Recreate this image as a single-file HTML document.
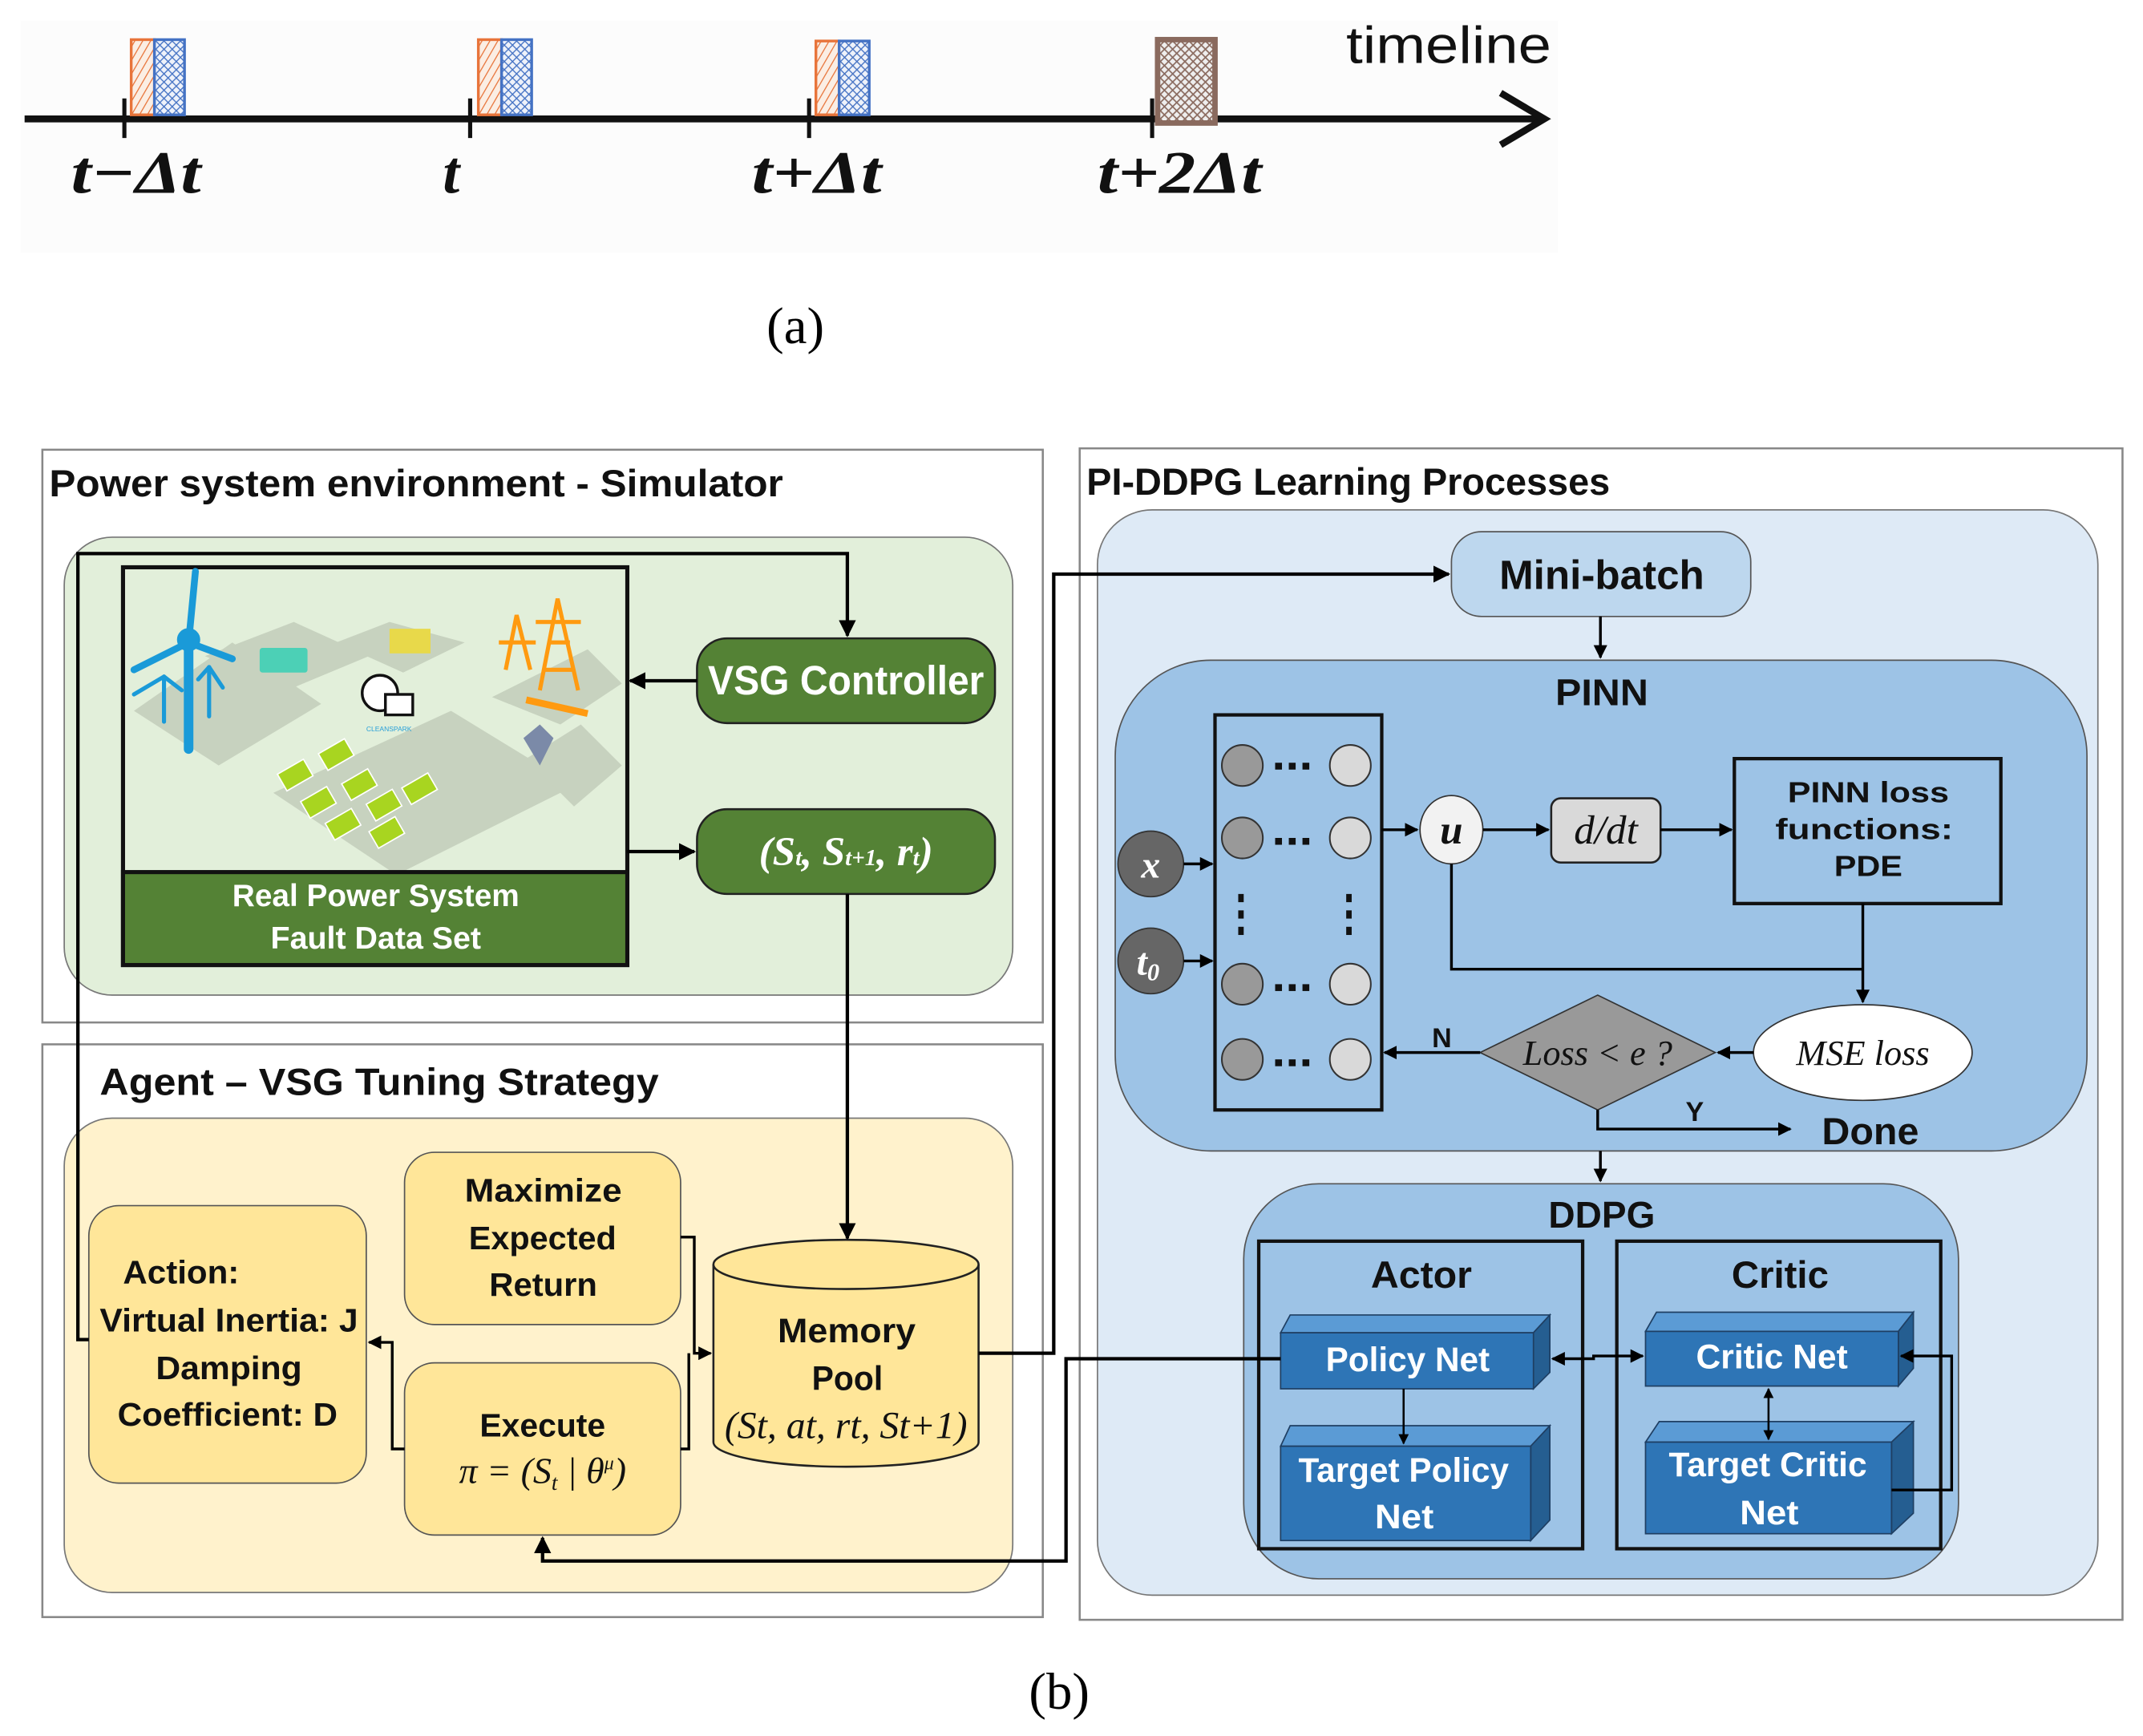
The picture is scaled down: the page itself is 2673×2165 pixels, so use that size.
<!DOCTYPE html>
<html><head><meta charset="utf-8"><style>
html,body{margin:0;padding:0;background:#fff}
svg{display:block}
.c{font-family:"Liberation Sans Narrow","Liberation Sans",sans-serif;font-weight:bold}
.s{font-family:"Liberation Serif",serif}
</style></head><body>
<svg width="2673" height="2165" viewBox="0 0 1568 1270" preserveAspectRatio="none" xmlns="http://www.w3.org/2000/svg">
<defs>
<marker id="a" viewBox="0 0 10 10" refX="9" refY="5" markerWidth="5" markerHeight="5" orient="auto-start-reverse"><path d="M0,0 L10,5 L0,10 z" fill="#000"/></marker>
<pattern id="h1" width="5" height="5" patternUnits="userSpaceOnUse" patternTransform="rotate(30)"><rect width="5" height="5" fill="#fbeee4"/><line x1="0" y1="0" x2="0" y2="5" stroke="#e8743a" stroke-width="1.5"/></pattern>
<pattern id="h2" width="6" height="6" patternUnits="userSpaceOnUse"><rect width="6" height="6" fill="#eef2fa"/><path d="M0,0 L6,6 M6,0 L0,6" stroke="#4472c4" stroke-width="0.8"/></pattern>
<pattern id="h3" width="6" height="6" patternUnits="userSpaceOnUse"><rect width="6" height="6" fill="#eee"/><path d="M0,0 L6,6 M6,0 L0,6" stroke="#8a6a5e" stroke-width="1"/></pattern>
</defs>

<rect x="15" y="15" width="1125" height="170" fill="#fcfcfc"/>
<line x1="18" y1="87" x2="1128" y2="87" stroke="#111" stroke-width="5"/>
<path d="M1098,68 L1130,87 L1098,106" fill="none" stroke="#111" stroke-width="5"/>
<g stroke="#111" stroke-width="3">
<line x1="91" y1="72" x2="91" y2="101"/><line x1="344" y1="72" x2="344" y2="101"/><line x1="592" y1="72" x2="592" y2="101"/><line x1="843" y1="72" x2="843" y2="101"/></g>
<g stroke-width="2">
<rect x="96" y="29" width="17" height="55" fill="url(#h1)" stroke="#e8743a"/><rect x="113" y="29" width="22" height="55" fill="url(#h2)" stroke="#4472c4"/>
<rect x="350" y="29" width="17" height="55" fill="url(#h1)" stroke="#e8743a"/><rect x="367" y="29" width="22" height="55" fill="url(#h2)" stroke="#4472c4"/>
<rect x="597" y="30" width="17" height="54" fill="url(#h1)" stroke="#e8743a"/><rect x="614" y="30" width="22" height="54" fill="url(#h2)" stroke="#4472c4"/>
<rect x="847" y="29" width="42" height="61" fill="url(#h3)" stroke="#8a6a5e" stroke-width="4"/></g>
<g class="s" font-style="italic" font-weight="bold" font-size="44" fill="#111">
<text x="52" y="141" textLength="95" lengthAdjust="spacingAndGlyphs">t−Δt</text><text x="324" y="141">t</text><text x="550" y="141" textLength="95" lengthAdjust="spacingAndGlyphs">t+Δt</text><text x="803" y="141" textLength="120" lengthAdjust="spacingAndGlyphs">t+2Δt</text></g>
<text x="985" y="46" font-family="Liberation Sans" font-size="38" fill="#111" textLength="150" lengthAdjust="spacingAndGlyphs">timeline</text>
<text x="582" y="251" text-anchor="middle" class="s" font-size="38">(a)</text>

<rect x="31" y="329" width="732" height="419" fill="#fff" stroke="#888" stroke-width="1.5"/>
<text x="36" y="363" class="c" font-size="28" fill="#111" textLength="537" lengthAdjust="spacingAndGlyphs">Power system environment - Simulator</text>
<rect x="47" y="393" width="694" height="335" rx="35" fill="#e2efda" stroke="#777" stroke-width="1"/>
<rect x="90" y="415" width="369" height="291" fill="#e2efda" stroke="#111" stroke-width="3"/>
<g fill="#c7d2bf">
<polygon points="98,520 170,470 235,515 160,560"/><polygon points="150,480 215,455 270,480 210,505"/>
<polygon points="246,470 285,455 340,470 295,492"/><polygon points="290,640 200,580 330,520 420,575"/>
<polygon points="360,510 430,475 455,500 410,530"/><polygon points="385,555 425,530 455,560 420,590"/></g>
<g stroke="#1a9ad8" stroke-width="5" fill="#1a9ad8" stroke-linecap="round">
<line x1="138" y1="470" x2="138" y2="548" stroke-width="7"/><line x1="138" y1="470" x2="143" y2="418"/><line x1="138" y1="470" x2="98" y2="490"/><line x1="138" y1="470" x2="170" y2="482"/>
<line x1="120" y1="495" x2="120" y2="528" stroke-width="3"/><line x1="120" y1="495" x2="98" y2="508" stroke-width="3"/><line x1="120" y1="495" x2="133" y2="505" stroke-width="3"/>
<line x1="153" y1="488" x2="153" y2="524" stroke-width="3"/><line x1="153" y1="488" x2="145" y2="497" stroke-width="3"/><line x1="153" y1="488" x2="163" y2="503" stroke-width="3"/>
<circle cx="138" cy="468" r="6"/></g>
<rect x="190" y="474" width="35" height="18" rx="2" fill="#4cd0b6"/>
<rect x="285" y="460" width="30" height="18" fill="#e8d94a"/>
<circle cx="278" cy="507" r="13" fill="#fff" stroke="#111" stroke-width="2"/><rect x="282" y="508" width="20" height="15" fill="#fff" stroke="#111" stroke-width="2"/>
<text x="268" y="535" font-family="Liberation Sans" font-size="5" fill="#29a0d8">CLEANSPARK</text>
<g stroke="#ff9a10" stroke-width="3" fill="none"><path d="M395,505 L408,438 L423,505 M398,490 L420,490 M401,470 L417,470 M392,455 L425,455"/><path d="M370,490 L378,450 L388,490 M365,470 L392,470"/></g>
<line x1="385" y1="512" x2="430" y2="522" stroke="#ff9a10" stroke-width="5"/>
<path d="M383,540 L395,530 L405,540 L395,560 Z" fill="#7b8aa8"/>
<g fill="#a8d520" stroke="#fff" stroke-width="1">
<rect x="205" y="560" width="22" height="14" transform="rotate(-30 216 567)"/><rect x="235" y="545" width="22" height="14" transform="rotate(-30 246 552)"/>
<rect x="222" y="580" width="22" height="14" transform="rotate(-30 233 587)"/><rect x="252" y="567" width="22" height="14" transform="rotate(-30 263 574)"/>
<rect x="240" y="596" width="22" height="14" transform="rotate(-30 251 603)"/><rect x="270" y="582" width="22" height="14" transform="rotate(-30 281 589)"/>
<rect x="296" y="570" width="22" height="14" transform="rotate(-30 307 577)"/><rect x="272" y="602" width="22" height="14" transform="rotate(-30 283 609)"/></g>
<rect x="90" y="638" width="369" height="68" fill="#548235" stroke="#111" stroke-width="3"/>
<text x="170" y="663" class="c" font-size="23" fill="#fff" textLength="210" lengthAdjust="spacingAndGlyphs">Real Power System</text>
<text x="198" y="694" class="c" font-size="23" fill="#fff" textLength="154" lengthAdjust="spacingAndGlyphs">Fault Data Set</text>
<rect x="510" y="467" width="218" height="62" rx="22" fill="#548235" stroke="#222" stroke-width="1.5"/>
<text x="518" y="508" class="c" font-size="30" fill="#fff" textLength="202" lengthAdjust="spacingAndGlyphs">VSG Controller</text>
<rect x="510" y="592" width="218" height="62" rx="22" fill="#548235" stroke="#222" stroke-width="1.5"/>
<text x="619" y="633" text-anchor="middle" class="s" font-style="italic" font-weight="bold" font-size="30" fill="#fff">(S<tspan font-size="17">t</tspan>, S<tspan font-size="17">t+1</tspan>, r<tspan font-size="17">t</tspan>)</text>

<rect x="31" y="764" width="732" height="419" fill="#fff" stroke="#888" stroke-width="1.5"/>
<text x="73" y="801" class="c" font-size="28" fill="#111" textLength="409" lengthAdjust="spacingAndGlyphs">Agent  –  VSG Tuning Strategy</text>
<rect x="47" y="818" width="694" height="347" rx="35" fill="#fff2cc" stroke="#777" stroke-width="1"/>
<rect x="65" y="882" width="203" height="203" rx="22" fill="#ffe699" stroke="#555" stroke-width="1"/>
<g class="c" font-size="24" fill="#111">
<text x="90" y="939" textLength="85" lengthAdjust="spacingAndGlyphs">Action:</text><text x="73" y="974" textLength="189" lengthAdjust="spacingAndGlyphs">Virtual Inertia: J</text><text x="114" y="1009" textLength="107" lengthAdjust="spacingAndGlyphs">Damping</text><text x="86" y="1043" textLength="161" lengthAdjust="spacingAndGlyphs">Coefficient: D</text></g>
<rect x="296" y="843" width="202" height="126" rx="22" fill="#ffe699" stroke="#555" stroke-width="1"/>
<g class="c" font-size="24" fill="#111"><text x="340" y="879" textLength="115" lengthAdjust="spacingAndGlyphs">Maximize</text><text x="343" y="914" textLength="108" lengthAdjust="spacingAndGlyphs">Expected</text><text x="358" y="948" textLength="79" lengthAdjust="spacingAndGlyphs">Return</text></g>
<rect x="296" y="997" width="202" height="126" rx="22" fill="#ffe699" stroke="#555" stroke-width="1"/>
<text x="351" y="1051" class="c" font-size="24" fill="#111" textLength="92" lengthAdjust="spacingAndGlyphs">Execute</text>
<text x="397" y="1085" text-anchor="middle" class="s" font-style="italic" font-size="27" fill="#111">π = (S<tspan font-size="16" dy="5">t</tspan><tspan dy="-5"> | θ</tspan><tspan font-size="14" dy="-10">μ</tspan><tspan dy="10">)</tspan></text>
<path d="M522,925 L522,1055 A97,18 0 0 0 716,1055 L716,925" fill="#ffe699" stroke="#222" stroke-width="1.5"/>
<ellipse cx="619" cy="925" rx="97" ry="18" fill="#ffe699" stroke="#222" stroke-width="1.5"/>
<g fill="#111"><text x="569" y="982" class="c" font-size="25" textLength="101" lengthAdjust="spacingAndGlyphs">Memory</text><text x="594" y="1017" class="c" font-size="25" textLength="52" lengthAdjust="spacingAndGlyphs">Pool</text>
<text x="619" y="1052" text-anchor="middle" class="s" font-style="italic" font-size="28">(St, at, rt, St+1)</text></g>

<rect x="790" y="328" width="763" height="857" fill="#fff" stroke="#888" stroke-width="1.5"/>
<text x="795" y="362" class="c" font-size="28" fill="#111" textLength="383" lengthAdjust="spacingAndGlyphs">PI-DDPG Learning Processes</text>
<rect x="803" y="373" width="732" height="794" rx="40" fill="#deeaf6" stroke="#777" stroke-width="1"/>
<rect x="1062" y="389" width="219" height="62" rx="22" fill="#bdd7ee" stroke="#555" stroke-width="1"/>
<text x="1097" y="431" class="c" font-size="30" fill="#111" textLength="150" lengthAdjust="spacingAndGlyphs">Mini-batch</text>
<rect x="816" y="483" width="711" height="359" rx="70" fill="#9dc3e6" stroke="#555" stroke-width="1"/>
<text x="1138" y="516" class="c" font-size="27" fill="#111" textLength="68" lengthAdjust="spacingAndGlyphs">PINN</text>
<rect x="889" y="523" width="122" height="289" fill="#9dc3e6" stroke="#111" stroke-width="2.5"/>
<g stroke="#333" stroke-width="1.2">
<circle cx="909" cy="560" r="15" fill="#999"/><circle cx="988" cy="560" r="15" fill="#d9d9d9"/>
<circle cx="909" cy="613" r="15" fill="#999"/><circle cx="988" cy="613" r="15" fill="#d9d9d9"/>
<circle cx="909" cy="720" r="15" fill="#999"/><circle cx="988" cy="720" r="15" fill="#d9d9d9"/>
<circle cx="909" cy="775" r="15" fill="#999"/><circle cx="988" cy="775" r="15" fill="#d9d9d9"/></g>
<g fill="#111"><g id="d3"><rect x="933" y="558" width="5" height="5"/><rect x="943" y="558" width="5" height="5"/><rect x="953" y="558" width="5" height="5"/></g>
<use href="#d3" y="55"/><use href="#d3" y="162"/><use href="#d3" y="217"/>
<rect x="906" y="654" width="4" height="6"/><rect x="906" y="666" width="4" height="6"/><rect x="906" y="678" width="4" height="6"/>
<rect x="985" y="654" width="4" height="6"/><rect x="985" y="666" width="4" height="6"/><rect x="985" y="678" width="4" height="6"/></g>
<circle cx="842" cy="632" r="24" fill="#666" stroke="#333"/><text x="842" y="642" text-anchor="middle" class="s" font-style="italic" font-weight="bold" font-size="28" fill="#fff">x</text>
<circle cx="842" cy="703" r="24" fill="#666" stroke="#333"/><text x="840" y="713" text-anchor="middle" class="s" font-style="italic" font-weight="bold" font-size="28" fill="#fff">t<tspan font-size="18" dy="4">0</tspan></text>
<ellipse cx="1062" cy="607" rx="23" ry="25" fill="#f2f2f2" stroke="#333"/><text x="1062" y="617" text-anchor="middle" class="s" font-style="italic" font-weight="bold" font-size="30" fill="#111">u</text>
<rect x="1135" y="584" width="80" height="47" rx="7" fill="#d9d9d9" stroke="#222" stroke-width="1.5"/>
<text x="1175" y="617" text-anchor="middle" class="s" font-style="italic" font-size="30" fill="#111">d/dt</text>
<rect x="1269" y="555" width="195" height="106" fill="#9dc3e6" stroke="#111" stroke-width="2.5"/>
<g font-family="Liberation Sans" font-weight="bold" font-size="21" fill="#111"><text x="1308" y="587" textLength="118" lengthAdjust="spacingAndGlyphs">PINN loss</text><text x="1299" y="614" textLength="130" lengthAdjust="spacingAndGlyphs">functions:</text><text x="1342" y="641" textLength="50" lengthAdjust="spacingAndGlyphs">PDE</text></g>
<ellipse cx="1363" cy="770" rx="80" ry="35" fill="#fff" stroke="#333"/>
<text x="1363" y="779" text-anchor="middle" class="s" font-style="italic" font-size="26" fill="#111">MSE loss</text>
<polygon points="1083,770 1169,728 1255,770 1169,812" fill="#999" stroke="#333"/>
<text x="1169" y="779" text-anchor="middle" class="s" font-style="italic" font-size="26" fill="#111">Loss &lt; e ?</text>
<text x="1055" y="766" text-anchor="middle" class="c" font-size="20" fill="#111">N</text>
<text x="1240" y="820" text-anchor="middle" class="c" font-size="20" fill="#111">Y</text>
<text x="1333" y="837" class="c" font-size="28" fill="#111" textLength="71" lengthAdjust="spacingAndGlyphs">Done</text>

<rect x="910" y="866" width="523" height="289" rx="55" fill="#9dc3e6" stroke="#555" stroke-width="1"/>
<text x="1133" y="898" class="c" font-size="27" fill="#111" textLength="78" lengthAdjust="spacingAndGlyphs">DDPG</text>
<rect x="921" y="908" width="237" height="225" fill="none" stroke="#111" stroke-width="2.5"/>
<rect x="1183" y="908" width="237" height="225" fill="none" stroke="#111" stroke-width="2.5"/>
<text x="1003" y="942" class="c" font-size="28" fill="#111" textLength="74" lengthAdjust="spacingAndGlyphs">Actor</text>
<text x="1267" y="942" class="c" font-size="28" fill="#111" textLength="71" lengthAdjust="spacingAndGlyphs">Critic</text>
<g stroke="#1f3f63" stroke-width="1">
<polygon points="937,975 944,962 1134,962 1122,975" fill="#5b9bd5"/><polygon points="1122,975 1134,962 1134,1004 1122,1016" fill="#255e91"/><rect x="937" y="975" width="185" height="41" fill="#2e75b6"/>
<polygon points="937,1058 944,1043 1134,1043 1120,1058" fill="#5b9bd5"/><polygon points="1120,1058 1134,1043 1134,1112 1120,1127" fill="#255e91"/><rect x="937" y="1058" width="183" height="69" fill="#2e75b6"/>
<polygon points="1204,974 1212,960 1400,960 1389,974" fill="#5b9bd5"/><polygon points="1389,974 1400,960 1400,1001 1389,1014" fill="#255e91"/><rect x="1204" y="974" width="185" height="40" fill="#2e75b6"/>
<polygon points="1204,1055 1214,1040 1400,1040 1384,1055" fill="#5b9bd5"/><polygon points="1384,1055 1400,1040 1400,1107 1384,1122" fill="#255e91"/><rect x="1204" y="1055" width="180" height="67" fill="#2e75b6"/></g>
<g class="c" font-size="25" fill="#fff">
<text x="970" y="1003" textLength="120" lengthAdjust="spacingAndGlyphs">Policy Net</text><text x="950" y="1084" textLength="154" lengthAdjust="spacingAndGlyphs">Target Policy</text><text x="1006" y="1118" textLength="43" lengthAdjust="spacingAndGlyphs">Net</text>
<text x="1241" y="1001" textLength="111" lengthAdjust="spacingAndGlyphs">Critic Net</text><text x="1221" y="1080" textLength="145" lengthAdjust="spacingAndGlyphs">Target Critic</text><text x="1273" y="1115" textLength="43" lengthAdjust="spacingAndGlyphs">Net</text></g>

<g fill="none" stroke="#000" stroke-width="2.5">
<path d="M65,980 L57,980 L57,405 L620,405 L620,465" marker-end="url(#a)"/>
<path d="M510,498 L461,498" marker-end="url(#a)"/>
<path d="M459,623 L508,623" marker-end="url(#a)"/>
<path d="M620,654 L620,906" marker-end="url(#a)"/>
<path d="M716,990 L771,990 L771,420 L1060,420" marker-end="url(#a)"/>
<path d="M1171,451 L1171,481" marker-end="url(#a)" stroke-width="2"/>
<path d="M1171,842 L1171,864" marker-end="url(#a)" stroke-width="2"/>
<path d="M937,994 L780,994 L780,1142 L397,1142 L397,1125" marker-end="url(#a)"/>
<path d="M498,905 L508,905 L508,990 L520,990" marker-end="url(#a)" stroke-width="2"/>
<path d="M498,1060 L504,1060 L504,990" stroke-width="2"/>
<path d="M296,1060 L287,1060 L287,982 L270,982" marker-end="url(#a)" stroke-width="2"/>
<path d="M866,632 L887,632" marker-end="url(#a)" stroke-width="2"/>
<path d="M866,703 L887,703" marker-end="url(#a)" stroke-width="2"/>
<path d="M1011,607 L1037,607" marker-end="url(#a)" stroke-width="2"/>
<path d="M1085,607 L1133,607" marker-end="url(#a)" stroke-width="2"/>
<path d="M1215,607 L1267,607" marker-end="url(#a)" stroke-width="2"/>
<path d="M1363,661 L1363,733" marker-end="url(#a)" stroke-width="2"/>
<path d="M1062,632 L1062,709 L1363,709" stroke-width="2"/>
<path d="M1283,770 L1257,770" marker-end="url(#a)" stroke-width="2"/>
<path d="M1083,770 L1013,770" marker-end="url(#a)" stroke-width="2"/>
<path d="M1169,812 L1169,826 L1310,826" marker-end="url(#a)" stroke-width="2"/>
<path d="M1136,994 L1166,994 L1166,992 L1202,992" marker-start="url(#a)" marker-end="url(#a)" stroke-width="2"/>
<path d="M1027,1016 L1027,1056" marker-end="url(#a)" stroke-width="1.5"/>
<path d="M1294,1016 L1294,1053" marker-start="url(#a)" marker-end="url(#a)" stroke-width="1.5"/>
<path d="M1384,1090 L1428,1090 L1428,992 L1391,992" marker-end="url(#a)" stroke-width="2"/>
</g>
<text x="775" y="1250" text-anchor="middle" class="s" font-size="38">(b)</text>
</svg>
</body></html>
